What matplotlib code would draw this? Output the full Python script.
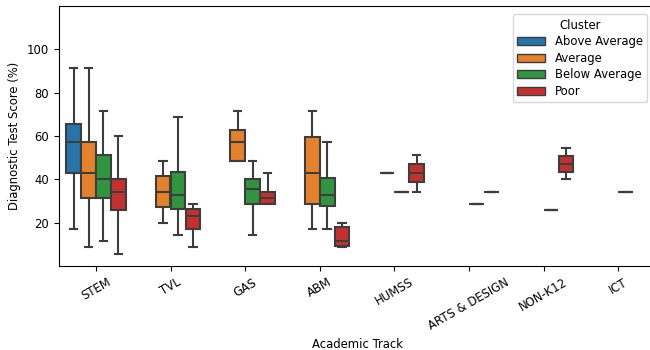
import matplotlib
matplotlib.use("Agg")
import matplotlib.pyplot as plt
from matplotlib.patches import Patch

tracks = ["STEM", "TVL", "GAS", "ABM", "HUMSS", "ARTS & DESIGN", "NON-K12", "ICT"]
clusters = ["Above Average", "Average", "Below Average", "Poor"]
colors = ["#2774ab", "#e5812a", "#2f953e", "#c5302e"]

# box stats per track: [whisker low, q1, median, q3, whisker high]
above_average = {
    "STEM": [17.1, 42.9, 57.1, 65.7, 91.4],
}
average = {
    "STEM": [8.6, 31.4, 42.9, 57.1, 91.4],
    "TVL": [20.0, 27.1, 34.3, 41.4, 48.6],
    "GAS": [48.6, 48.6, 57.1, 62.9, 71.4],
    "ABM": [17.1, 28.6, 42.9, 59.3, 71.4],
    "HUMSS": [42.9, 42.9, 42.9, 42.9, 42.9],
}
below_average = {
    "STEM": [11.4, 31.4, 40.0, 51.4, 71.4],
    "TVL": [14.3, 26.1, 32.9, 43.6, 68.6],
    "GAS": [14.3, 28.6, 35.7, 40.0, 48.6],
    "ABM": [17.1, 27.9, 32.9, 40.4, 57.1],
    "HUMSS": [34.3, 34.3, 34.3, 34.3, 34.3],
    "ARTS & DESIGN": [28.6, 28.6, 28.6, 28.6, 28.6],
    "NON-K12": [25.7, 25.7, 25.7, 25.7, 25.7],
    "ICT": [34.3, 34.3, 34.3, 34.3, 34.3],
}
poor = {
    "STEM": [5.7, 25.7, 34.3, 40.0, 60.0],
    "TVL": [8.6, 17.1, 22.9, 26.4, 28.6],
    "GAS": [28.6, 28.6, 31.4, 34.3, 42.9],
    "ABM": [8.6, 9.3, 11.4, 17.9, 20.0],
    "HUMSS": [34.3, 38.6, 42.9, 47.1, 51.4],
    "ARTS & DESIGN": [34.3, 34.3, 34.3, 34.3, 34.3],
    "NON-K12": [40.0, 43.6, 47.1, 50.7, 54.3],
}
cluster_data = [above_average, average, below_average, poor]

plt.rcParams["font.size"] = 8.4

fig = plt.figure(figsize=(6.5, 3.5), dpi=100)
ax = fig.add_axes([0.0903, 0.24, 0.918, 0.743])

edge = "#3d3d3d"
width = 0.8 / len(clusters)
for j, (data, col) in enumerate(zip(cluster_data, colors)):
    stats, pos = [], []
    for i, t in enumerate(tracks):
        if t not in data:
            continue
        lo, q1, med, q3, hi = data[t]
        stats.append(dict(whislo=lo, q1=q1, med=med, q3=q3, whishi=hi, fliers=[]))
        pos.append(i - 0.4 + width * (j + 0.5))
    ax.bxp(stats, positions=pos, widths=width * 0.98, capwidths=width * 0.5,
           patch_artist=True, showfliers=False,
           boxprops=dict(facecolor=col, edgecolor=edge, linewidth=1.5),
           medianprops=dict(color=edge, linewidth=1.5),
           whiskerprops=dict(color=edge, linewidth=1.5),
           capprops=dict(color=edge, linewidth=1.5))

ax.set_xlim(-0.5, len(tracks) - 0.5)
ax.set_ylim(0, 120)
ax.set_yticks([20, 40, 60, 80, 100])
ax.set_xticks(range(len(tracks)))
ax.set_xticklabels(tracks, rotation=30)
ax.set_xlabel("Academic Track")
ax.set_ylabel("Diagnostic Test Score (%)")

handles = [Patch(facecolor=c, edgecolor=edge, label=l) for c, l in zip(colors, clusters)]
ax.legend(handles=handles, title="Cluster", loc="upper right",
          labelspacing=0.3, handlelength=2.4, borderaxespad=0.7)

fig.savefig("out.png", dpi=100)
